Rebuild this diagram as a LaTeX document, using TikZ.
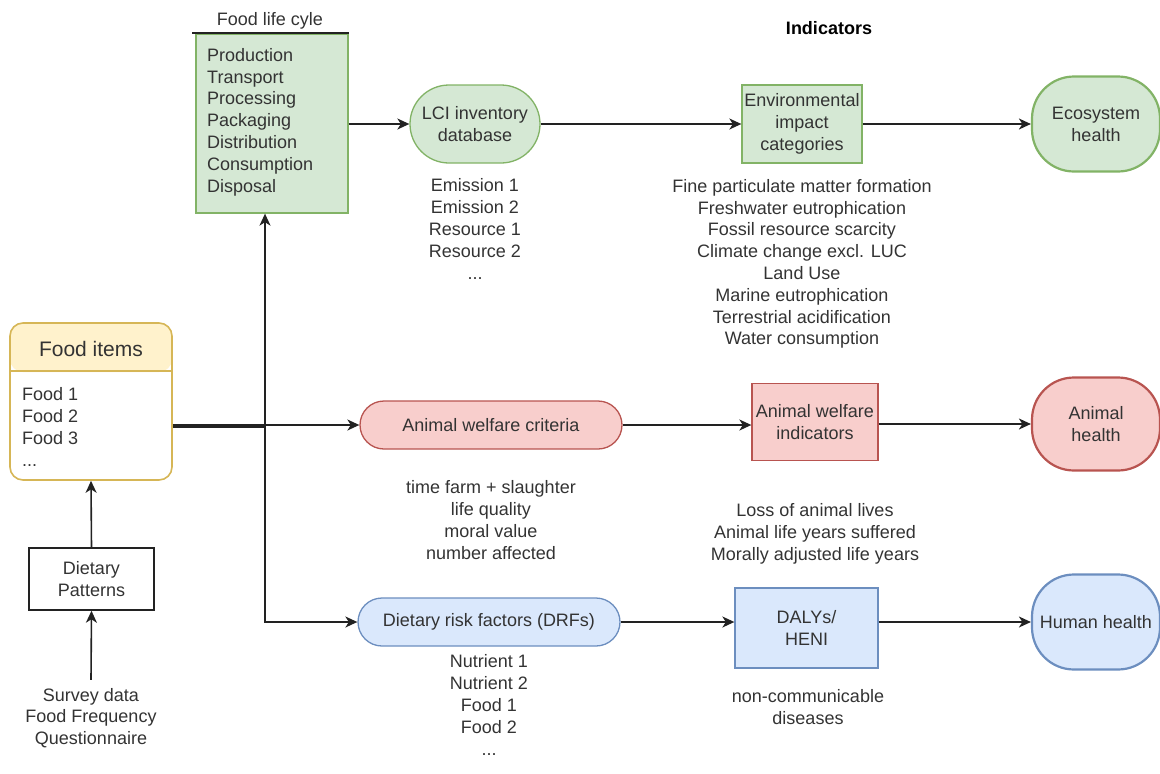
\documentclass[tikz,border=0pt]{standalone}
\usepackage{fontspec}
\setmainfont{Liberation Sans}
\usetikzlibrary{arrows.meta}
\definecolor{gfill}{HTML}{D5E8D4}\definecolor{gdraw}{HTML}{82B366}
\definecolor{rfill}{HTML}{F8CECC}\definecolor{rdraw}{HTML}{B85450}
\definecolor{bfill}{HTML}{DAE8FC}\definecolor{bdraw}{HTML}{6C8EBF}
\definecolor{yfill}{HTML}{FFF2CC}\definecolor{ydraw}{HTML}{D6B656}
\definecolor{txt}{HTML}{333333}
\definecolor{ln}{HTML}{222222}
\begin{document}
\begin{tikzpicture}[x=1pt,y=-1pt,
  font=\fontsize{18}{21.8}\selectfont, text=txt,
  lbl/.style={align=center, inner sep=0pt},
  shp/.style={align=center, inner sep=2pt, line width=1.3pt},
  gbox/.style={shp, fill=gfill, draw=gdraw},
  rbox/.style={shp, fill=rfill, draw=rdraw},
  bbox/.style={shp, fill=bfill, draw=bdraw},
  pill/.style={minimum width=262pt, minimum height=48pt, rounded corners=24pt},
  health/.style={minimum width=128pt, minimum height=95pt, rounded corners=42pt, line width=2.2pt},
  arrow/.style={-{Stealth[length=12pt,width=11pt,inset=3.5pt]}, line width=1.6pt, draw=ln},
  plain/.style={line width=1.6pt, draw=ln}]
\useasboundingbox (0,0) rectangle (1160,774);

% Food life cycle
\node[lbl] (lifetitle) at (270,21) {Food life cyle};
\node[gbox, minimum width=152pt, minimum height=179pt] (life) at (272,123.5) {};
\draw[line width=1.6pt, ln] (192,33) -- (349,33);
\node[lbl, align=left, anchor=west] (lifetext) at (207,122) {Production\\Transport\\Processing\\Packaging\\Distribution\\Consumption\\Disposal};

% Indicators
\node[lbl, font=\fontsize{18}{21.8}\selectfont\bfseries, text=black] (ind) at (829,28) {Indicators};

% Environmental row
\node[gbox, minimum width=130pt, minimum height=78pt, rounded corners=39pt] (lci) at (475,124) {LCI inventory\\database};
\node[lbl] (lcilist) at (475,229) {Emission 1\\Emission 2\\Resource 1\\Resource 2\\...};
\node[gbox, minimum width=120pt, minimum height=78pt] (env) at (802,124) {Environmental\\impact\\categories};
\node[lbl] (envlist) at (802,264) {Fine particulate matter formation\\Freshwater eutrophication\\Fossil resource scarcity\\Climate change excl. LUC\\Land Use\\Marine eutrophication\\Terrestrial acidification\\Water consumption};
\node[gbox, health] (eco) at (1096,124) {Ecosystem\\health};

% Animal row
\node[rbox, pill] (awc) at (491,425) {Animal welfare criteria};
\node[lbl] (awclist) at (491,520) {time farm + slaughter\\life quality\\moral value\\number affected};
\node[rbox, minimum width=126pt, minimum height=77pt] (awi) at (815,422) {Animal welfare\\indicators};
\node[lbl] (awilist) at (815,534) {Loss of animal lives\\Animal life years suffered\\Morally adjusted life years};
\node[rbox, health, minimum height=93pt] (ah) at (1096,424) {Animal\\health};

% Human row
\node[bbox, pill] (drf) at (489,622) {Dietary risk factors (DRFs)};
\node[lbl] (drflist) at (489,705) {Nutrient 1\\Nutrient 2\\Food 1\\Food 2\\...};
\node[bbox, minimum width=143pt, minimum height=80pt] (daly) at (806.5,628) {DALYs/\\HENI};
\node[lbl] (ncd) at (808,707) {non-communicable\\diseases};
\node[bbox, health] (hh) at (1096,622) {Human health};

% Food items
\node[draw=ydraw, fill=white, line width=1.6pt, rounded corners=13pt,
      minimum width=162pt, minimum height=157pt, inner sep=0pt,
      path picture={\fill[yfill] (path picture bounding box.north west) rectangle ([yshift=-49pt]path picture bounding box.north east);}] (food) at (91,401.5) {};
\draw[ydraw, line width=1.8pt] ([yshift=-49pt]food.north west) -- ([yshift=-49pt]food.north east);
\node[lbl, font=\fontsize{21}{25}\selectfont] (foodtitle) at (91,349) {Food items};
\node[lbl, align=left, anchor=west] (foodlist) at (22,427) {Food 1\\Food 2\\Food 3\\...};

% Dietary patterns and survey
\node[shp, draw=ln, fill=white, line width=1.5pt, minimum width=125pt, minimum height=62pt] (diet) at (91.5,579) {Dietary\\Patterns};
\node[lbl] (survey) at (91,718) {Survey data\\Food Frequency\\Questionnaire};

% Connectors
\draw[arrow] (life.east |- lci.west) -- (lci.west);
\draw[arrow] (lci.east) -- (lci.east -| env.west);
\draw[arrow] (env.east) -- (env.east -| eco.west);
\draw[arrow] (awc.east) -- (awc.east -| awi.west);
\draw[arrow] (awi.east |- ah.west) -- (ah.west);
\draw[arrow] (drf.east) -- (drf.east -| daly.west);
\draw[arrow] (daly.east |- hh.west) -- (hh.west);

\coordinate (fo) at (food.east |- awc.west);
\coordinate (jn) at (265,425);
\draw[arrow] (fo) -- (awc.west);
\draw[plain] ([yshift=-1.8pt]fo) -- ([yshift=-1.8pt]jn);
\draw[arrow] (jn) -- (jn |- life.south);
\draw[arrow] (jn) |- (drf.west);

\draw[arrow] (diet.north) -- (food.south);
\draw[arrow] ([yshift=8pt]survey.north) -- (diet.south);
\end{tikzpicture}
\end{document}
